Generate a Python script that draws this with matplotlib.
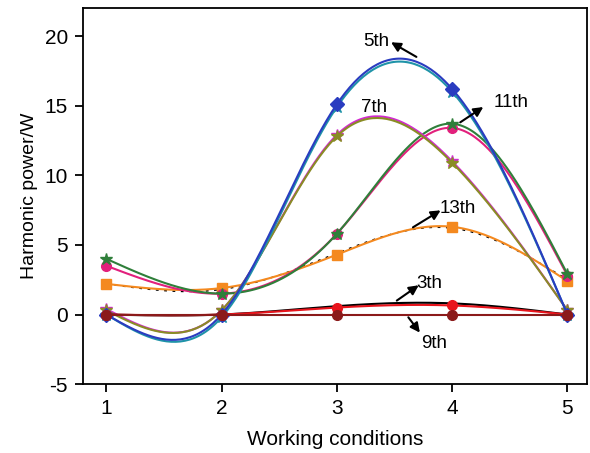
import numpy as np
import matplotlib.pyplot as plt

plt.rcParams['font.family'] = ['Liberation Sans', 'DejaVu Sans']
plt.rcParams['axes.unicode_minus'] = False

# working conditions
cond = [1, 2, 3, 4, 5]

# harmonic power (W), two curves per harmonic order
p3_a = [0.0, 0.0, 0.5, 0.65, 0.0]
p3_b = [0.0, 0.0, 0.6, 0.8, 0.0]
p5_a = [0.0, 0.0, 15.1, 16.2, 0.0]
p5_b = [0.0, -0.2, 14.9, 16.0, 0.0]
p7_a = [0.4, 0.3, 12.9, 11.0, 0.3]
p7_b = [0.3, 0.3, 12.8, 10.9, 0.3]
p9 = [0.0, 0.0, 0.0, 0.0, 0.0]
p11_a = [4.0, 1.5, 5.8, 13.7, 2.9]
p11_b = [3.5, 1.5, 5.8, 13.4, 2.8]
p13_a = [2.2, 1.9, 4.3, 6.3, 2.4]
p13_b = [2.2, 1.8, 4.4, 6.2, 2.5]


def spline(x, y, n=200):
    # natural cubic spline through the points
    x = np.asarray(x, float)
    y = np.asarray(y, float)
    m = len(x)
    h = np.diff(x)
    A = np.zeros((m, m))
    r = np.zeros(m)
    A[0, 0] = A[-1, -1] = 1
    for i in range(1, m - 1):
        A[i, i - 1] = h[i - 1]
        A[i, i] = 2 * (h[i - 1] + h[i])
        A[i, i + 1] = h[i]
        r[i] = 3 * ((y[i + 1] - y[i]) / h[i] - (y[i] - y[i - 1]) / h[i - 1])
    c = np.linalg.solve(A, r)
    xs = np.linspace(x[0], x[-1], n)
    ys = np.empty_like(xs)
    for k, xv in enumerate(xs):
        i = min(np.searchsorted(x, xv, side='right') - 1, m - 2)
        b = (y[i + 1] - y[i]) / h[i] - h[i] * (2 * c[i] + c[i + 1]) / 3
        d = (c[i + 1] - c[i]) / (3 * h[i])
        t = xv - x[i]
        ys[k] = y[i] + b * t + c[i] * t ** 2 + d * t ** 3
    return xs, ys


fig = plt.figure(figsize=(5.9, 4.53), dpi=100)
ax = fig.add_axes([0.141, 0.152, 0.854, 0.83])

series = [
    (p13_b, 'black', None, (0, (2, 4)), 1.0),
    (p13_a, '#f4891f', 's', '-', 1.5),
    (p11_b, '#e2207c', 'o', '-', 1.5),
    (p11_a, '#2f7f3a', '*', '-', 1.5),
    (p7_a, '#d22ad0', '*', '-', 1.5),
    (p7_b, '#8a8c25', '*', '-', 1.5),
    (p5_b, '#1f93a8', '*', '-', 1.5),
    (p5_a, '#2a3cc0', 'D', '-', 1.5),
    (p3_b, 'black', None, '-', 1.5),
    (p3_a, '#e8141c', 'o', '-', 1.5),
    (p9, '#8b1a1a', 'o', '-', 1.5),
]
for y, col, mk, ls, lw in series:
    xs, ys = spline(cond, y)
    ax.plot(xs, ys, color=col, ls=ls, lw=lw)
    if mk:
        ax.plot(cond, y, ls='none', marker=mk, color=col, ms=9 if mk == '*' else 7)

arrow = dict(arrowstyle='-|>', color='black', lw=1.5, mutation_scale=14,
             shrinkA=0, shrinkB=0)
fs = 13.5
ax.annotate('', xy=(3.47, 19.55), xytext=(3.69, 18.5), arrowprops=arrow)
ax.text(3.34, 19.6, '5th', fontsize=fs, ha='center', va='center')
ax.text(3.32, 14.9, '7th', fontsize=fs, ha='center', va='center')
ax.annotate('', xy=(4.27, 14.9), xytext=(4.07, 13.8), arrowprops=arrow)
ax.text(4.51, 15.2, '11th', fontsize=fs, ha='center', va='center')
ax.annotate('', xy=(3.90, 7.48), xytext=(3.66, 6.26), arrowprops=arrow)
ax.text(4.05, 7.6, '13th', fontsize=fs, ha='center', va='center')
ax.annotate('', xy=(3.71, 2.1), xytext=(3.52, 1.0), arrowprops=arrow)
ax.text(3.80, 2.2, '3th', fontsize=fs, ha='center', va='center')
ax.annotate('', xy=(3.72, -1.3), xytext=(3.62, -0.2), arrowprops=arrow)
ax.text(3.84, -2.1, '9th', fontsize=fs, ha='center', va='center')

ax.set_xlim(0.8, 5.17)
ax.set_ylim(-5, 22)
ax.set_xticks(cond)
ax.set_yticks([-5, 0, 5, 10, 15, 20])
ax.tick_params(direction='out', length=6, width=1.3, labelsize=15, pad=5)
for s in ax.spines.values():
    s.set_linewidth(1.3)
ax.set_xlabel('Working conditions', fontsize=15, labelpad=8)
ax.set_ylabel('Harmonic power/W', fontsize=14, labelpad=5)

fig.savefig('out.png', dpi=100)
